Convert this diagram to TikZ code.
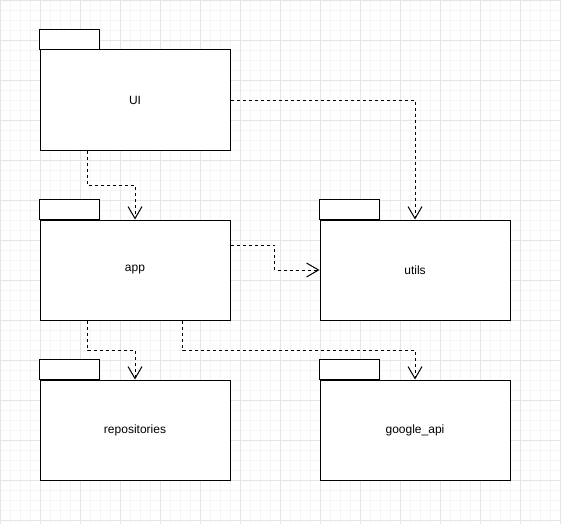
\documentclass[tikz,border=0pt]{standalone}
\usepackage{fontspec}
\setmainfont{Liberation Sans}
\usetikzlibrary{arrows.meta}
\tikzset{
  pkg/.style={draw,line width=1pt,fill=white,minimum width=190pt,minimum height=100pt,inner sep=0pt,font=\fontsize{12}{14}\selectfont},
  pkgtab/.style={draw,line width=1pt,fill=white},
  dep/.style={line width=1pt,dash pattern=on 3pt off 3pt,-{Straight Barb[length=12pt,width=14pt,line width=1pt]}}
}
\begin{document}
\begin{tikzpicture}[x=1pt,y=-1pt]
\useasboundingbox (0,0) rectangle (561,524);
%\draw[step=1cm,gray,very thin] (0,0) grid (6,3);
\fill[white] (0,0) rectangle (561,524);
\draw[black!4,line width=0.8pt,step=10pt] (0,0) grid (561,524);
\draw[black!10,line width=0.8pt,step=40pt] (0,0) grid (561,524);
\node[pkg] (ui) at (135,100) {UI};
\node[pkg] (app) at (135,270) {app};
\node[pkg] (utils) at (415,270) {utils};
\node[pkg] (repo) at (135,430) {repositories};
\node[pkg] (gapi) at (415,430) {google\_api};
\draw[pkgtab] (ui.north west) rectangle ++(60,-20);
\draw[pkgtab] (app.north west) rectangle ++(60,-20);
\draw[pkgtab] (utils.north west) rectangle ++(60,-20);
\draw[pkgtab] (repo.north west) rectangle ++(60,-20);
\draw[pkgtab] (gapi.north west) rectangle ++(60,-20);
\draw[dep] ([xshift=-47.5pt]ui.south) -- ++(0,35) -| (app.north);
\draw[dep] (ui.east) -| (utils.north);
\draw[dep] ([yshift=25pt]app.east) -- ++(44,0) |- (utils.west);
\draw[dep] ([xshift=-47.5pt]app.south) -- ++(0,30) -| (repo.north);
\draw[dep] ([xshift=47.5pt]app.south) -- ++(0,30) -| (gapi.north);
\end{tikzpicture}
\end{document}
